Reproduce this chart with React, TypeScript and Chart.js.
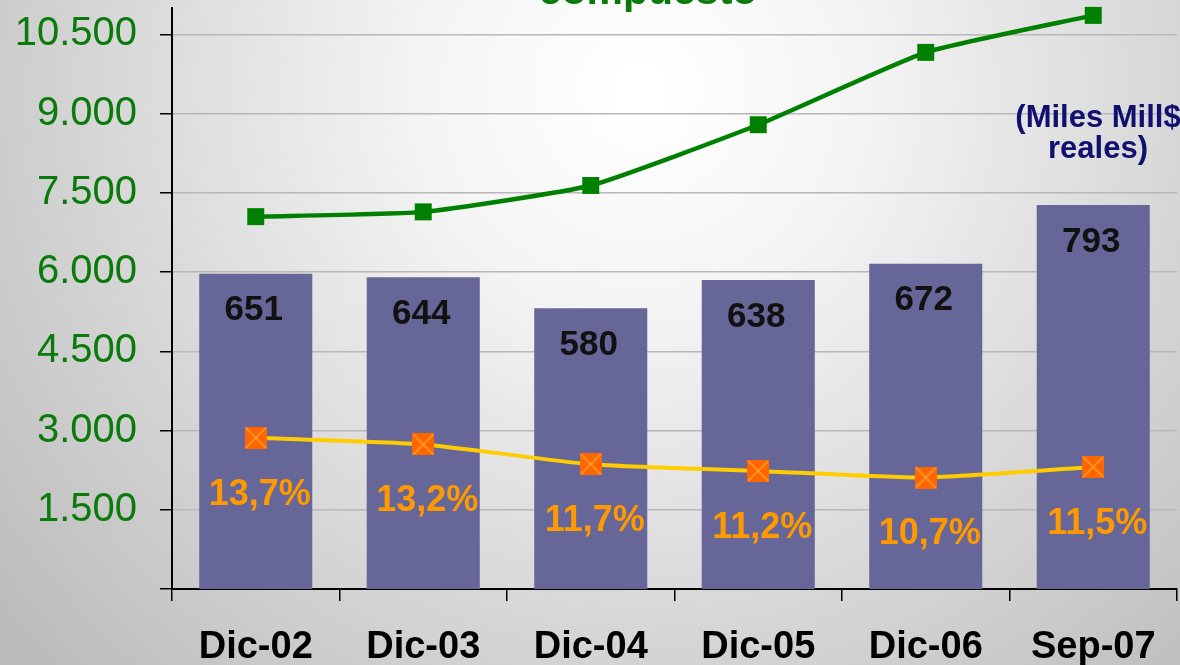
import React, { useEffect, useRef } from 'react';
import { Chart, registerables } from 'chart.js';

Chart.register(...registerables);

const categories = ['Dic-02', 'Dic-03', 'Dic-04', 'Dic-05', 'Dic-06', 'Sep-07'];
const barValues = [651, 644, 580, 638, 672, 793];
const greenValues = [7050, 7140, 7640, 8790, 10160, 10860];
const pctValues = [13.7, 13.2, 11.7, 11.2, 10.7, 11.5];
const yTickValues = [0, 1500, 3000, 4500, 6000, 7500, 9000, 10500];
const titleText = 'compuesto';
const unitLines = ['(Miles Mill$', 'reales)'];

const FONT = '"Liberation Sans", Arial, sans-serif';

function fmtThousands(v: number): string {
  return String(v).replace(/\B(?=(\d{3})+(?!\d))/g, '.');
}

function fmtPct(v: number): string {
  return v.toFixed(1).replace('.', ',') + '%';
}

function makeOrangeMarker(): HTMLCanvasElement {
  const c = document.createElement('canvas');
  const s = 22;
  c.width = s;
  c.height = s;
  const ctx = c.getContext('2d')!;
  ctx.fillStyle = '#FF6600';
  ctx.fillRect(0, 0, s, s);
  ctx.strokeStyle = '#FFA030';
  ctx.lineWidth = 1.6;
  ctx.beginPath();
  ctx.moveTo(1, 1);
  ctx.lineTo(s - 1, s - 1);
  ctx.moveTo(s - 1, 1);
  ctx.lineTo(1, s - 1);
  ctx.stroke();
  return c;
}

const backgroundPlugin = {
  id: 'bgPlugin',
  beforeDraw(chart: any) {
    const ctx = chart.ctx;
    const w = chart.width;
    const h = chart.height;
    ctx.save();
    const g = ctx.createRadialGradient(640, 90, 20, 640, 90, 820);
    g.addColorStop(0, '#ffffff');
    g.addColorStop(0.25, '#f4f4f4');
    g.addColorStop(0.55, '#dedede');
    g.addColorStop(1, '#bcbcbc');
    ctx.fillStyle = g;
    ctx.fillRect(0, 0, w, h);
    ctx.restore();
  },
};

const labelsPlugin = {
  id: 'labelsPlugin',
  afterDatasetsDraw(chart: any) {
    const ctx = chart.ctx;
    ctx.save();
    ctx.textAlign = 'center';
    ctx.textBaseline = 'middle';
    const barMeta = chart.getDatasetMeta(0);
    ctx.font = `bold 35px ${FONT}`;
    ctx.fillStyle = '#111111';
    barMeta.data.forEach((el: any, i: number) => {
      ctx.fillText(String(barValues[i]), el.x - 2, el.y + 37);
    });
    const pMeta = chart.getDatasetMeta(2);
    ctx.font = `bold 36px ${FONT}`;
    ctx.fillStyle = '#FF9900';
    pMeta.data.forEach((el: any, i: number) => {
      ctx.fillText(fmtPct(pctValues[i]), el.x + 4, el.y + 57);
    });
    ctx.font = `bold 41px ${FONT}`;
    ctx.fillStyle = '#0a7a0a';
    ctx.textBaseline = 'alphabetic';
    ctx.fillText(titleText, 648, 4);
    ctx.font = `bold 31px ${FONT}`;
    ctx.fillStyle = '#101070';
    ctx.textBaseline = 'middle';
    unitLines.forEach((t, i) => {
      ctx.fillText(t, 1098, 118 + i * 31);
    });
    ctx.restore();
  },
};

export default function App() {
  const ref = useRef<HTMLCanvasElement>(null);

  useEffect(() => {
    if (!ref.current) return;
    const orange = makeOrangeMarker();
    const chart = new Chart(ref.current, {
      type: 'bar',
      data: {
        labels: categories,
        datasets: [
          {
            type: 'bar',
            data: barValues,
            backgroundColor: '#666699',
            borderWidth: 0,
            yAxisID: 'y1',
            categoryPercentage: 0.675,
            barPercentage: 1,
            order: 3,
          } as any,
          {
            type: 'line',
            data: greenValues,
            borderColor: '#008000',
            borderWidth: 4.5,
            backgroundColor: '#008000',
            pointStyle: 'rect',
            pointRadius: 12,
            pointBorderWidth: 0,
            pointBackgroundColor: '#008000',
            tension: 0.15,
            yAxisID: 'y',
            order: 1,
            clip: false,
          } as any,
          {
            type: 'line',
            data: pctValues,
            borderColor: '#FFCC00',
            borderWidth: 4,
            pointStyle: orange,
            pointRadius: 11,
            tension: 0.2,
            yAxisID: 'y2',
            order: 2,
          } as any,
        ],
      },
      options: {
        responsive: false,
        animation: false,
        layout: { autoPadding: false, padding: { top: 8, right: 3, left: 0, bottom: 0 } },
        plugins: {
          legend: { display: false },
          tooltip: { enabled: false },
          title: { display: false },
        },
        scales: {
          x: {
            offset: true,
            border: { display: true, color: '#000000', width: 2 },
            grid: {
              display: true,
              offset: true,
              drawOnChartArea: false,
              drawTicks: true,
              tickLength: 12,
              color: '#000000',
              lineWidth: 1.5,
            },
            ticks: {
              color: '#000000',
              font: { family: FONT, size: 38, weight: 'bold' },
              padding: 24,
              maxRotation: 0,
              autoSkip: false,
            },
            afterFit(scale: any) {
              scale.height = 76;
              scale.paddingLeft = 0;
              scale.paddingRight = 0;
            },
          },
          y: {
            min: 0,
            max: 11000,
            border: { display: true, color: '#000000', width: 2 },
            grid: {
              color: '#b8b8b8',
              lineWidth: 1.5,
              tickColor: '#000000',
              tickLength: 12,
              drawTicks: true,
            },
            ticks: {
              color: '#0a7a0a',
              padding: 23,
              autoSkip: false,
              font: { family: FONT, size: 40 },
              callback: (v: any) => (Number(v) === 0 ? '' : fmtThousands(Number(v))),
            },
            afterBuildTicks(scale: any) {
              scale.ticks = yTickValues.map((v) => ({ value: v }));
            },
            afterFit(scale: any) {
              scale.width = 172;
              scale.paddingTop = 0;
              scale.paddingBottom = 0;
            },
          },
          y1: {
            display: false,
            min: 0,
            max: 1200,
          },
          y2: {
            display: false,
            min: 2.27,
            max: 46.2,
          },
        },
      } as any,
      plugins: [backgroundPlugin, labelsPlugin],
    });
    return () => chart.destroy();
  }, []);

  return (
    <div style={{ position: 'fixed', left: 0, top: 0, width: 1180, height: 665 }}>
      <canvas ref={ref} width={1180} height={665} style={{ display: 'block' }} />
    </div>
  );
}
